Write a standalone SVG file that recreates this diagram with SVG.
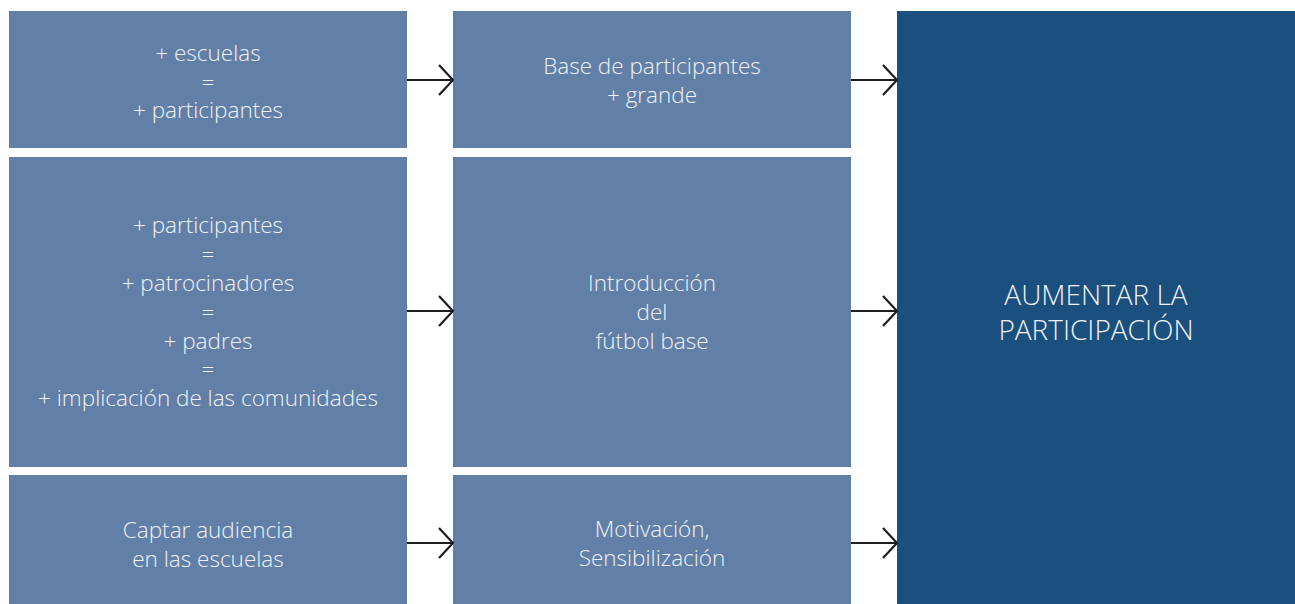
<svg xmlns="http://www.w3.org/2000/svg" width="1295" height="604" viewBox="0 0 1295 604">
<style>
.box{fill:#6280a7}
.main{fill:#1b4f7e}
.t{font-family:"Open Sans","Liberation Sans",sans-serif;font-size:22.5px;font-weight:300;fill:#eef2f7;text-anchor:middle}
.tb{font-family:"Open Sans","Liberation Sans",sans-serif;font-size:28px;font-weight:300;fill:#eef2f7;text-anchor:middle}
.c{stroke:#1e1e1e;stroke-width:2;fill:none}
</style>
<defs>
<marker id="ah" viewBox="0 0 16 32" refX="15" refY="16" markerWidth="16" markerHeight="32" markerUnits="userSpaceOnUse" orient="auto">
<path d="M1,1 L15,16 L1,31" fill="none" stroke="#1e1e1e" stroke-width="2.2"/>
</marker>
</defs>
<rect width="1295" height="604" fill="#ffffff"/>
<g id="n1"><rect class="box" x="9" y="11" width="398" height="137"/>
<text class="t" x="208" y="61">+ escuelas</text><text class="t" x="208" y="89.5">=</text><text class="t" x="208" y="118">+ participantes</text></g>
<g id="n2"><rect class="box" x="9" y="157" width="398" height="310"/>
<text class="t" x="208" y="233">+ participantes</text><text class="t" x="208" y="262">=</text><text class="t" x="208" y="291">+ patrocinadores</text><text class="t" x="208" y="320">=</text><text class="t" x="208" y="349">+ padres</text><text class="t" x="208" y="377">=</text><text class="t" x="208" y="406">+ implicación de las comunidades</text></g>
<g id="n3"><rect class="box" x="9" y="475" width="398" height="129"/>
<text class="t" x="208" y="538">Captar audiencia</text><text class="t" x="208" y="567">en las escuelas</text></g>
<g id="n4"><rect class="box" x="453" y="11" width="398" height="137"/>
<text class="t" x="652" y="74">Base de participantes</text><text class="t" x="652" y="103">+ grande</text></g>
<g id="n5"><rect class="box" x="453" y="157" width="398" height="310"/>
<text class="t" x="652" y="291">Introducción</text><text class="t" x="652" y="320">del</text><text class="t" x="652" y="349">fútbol base</text></g>
<g id="n6"><rect class="box" x="453" y="475" width="398" height="129"/>
<text class="t" x="652" y="537">Motivación,</text><text class="t" x="652" y="566">Sensibilización</text></g>
<g id="n7"><rect class="main" x="897" y="11" width="398" height="593"/>
<text class="tb" x="1096" y="305">AUMENTAR LA</text><text class="tb" x="1096" y="340">PARTICIPACIÓN</text></g>
<g id="connectors">
<line class="c" x1="407" y1="80" x2="453" y2="80" marker-end="url(#ah)"/>
<line class="c" x1="407" y1="311" x2="453" y2="311" marker-end="url(#ah)"/>
<line class="c" x1="407" y1="543" x2="453" y2="543" marker-end="url(#ah)"/>
<line class="c" x1="851" y1="80" x2="897" y2="80" marker-end="url(#ah)"/>
<line class="c" x1="851" y1="311" x2="897" y2="311" marker-end="url(#ah)"/>
<line class="c" x1="851" y1="543" x2="897" y2="543" marker-end="url(#ah)"/>
</g>
</svg>
